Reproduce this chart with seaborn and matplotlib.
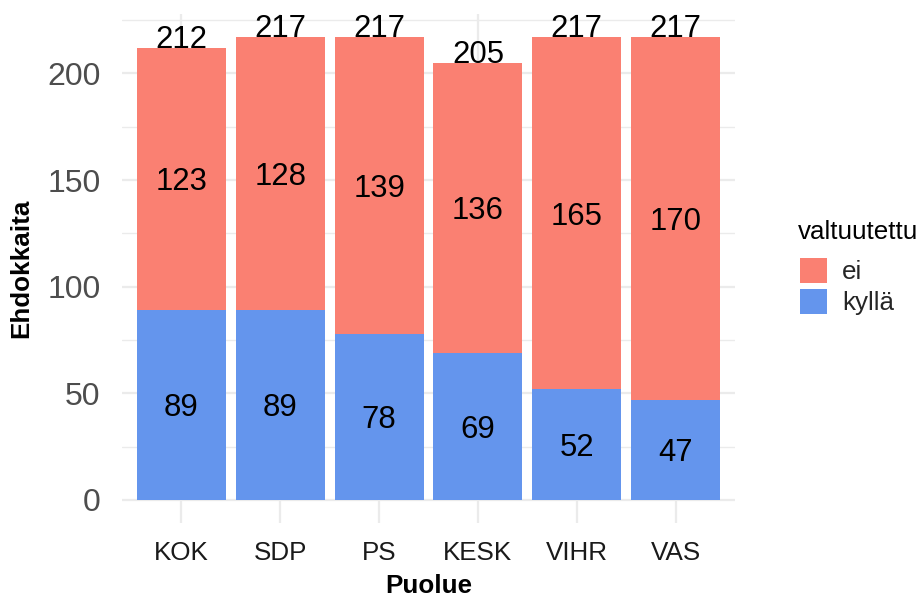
import matplotlib
matplotlib.use("Agg")
import matplotlib.pyplot as plt
import seaborn as sns
import pandas as pd
from matplotlib.patches import Patch

parties = ["KOK", "SDP", "PS", "KESK", "VIHR", "VAS"]
kylla = [89, 89, 78, 69, 52, 47]
ei = [123, 128, 139, 136, 165, 170]
legend_labels = ["ei", "kyllä"]
legend_title = "valtuutettu"

C_EI = "#FA8072"
C_KYLLA = "#6495ED"

sns.set_theme(style="whitegrid")
plt.rcParams["font.family"] = ["Liberation Sans", "DejaVu Sans"]

W, H = 921, 599
fig = plt.figure(figsize=(W / 100, H / 100), dpi=100)
L, R, T, B = 122, 735, 14, 523
ax = fig.add_axes([L / W, 1 - B / H, (R - L) / W, (B - T) / H])

df = pd.DataFrame({"Puolue": parties, "kylla": kylla, "ei": ei})
df["total"] = df["kylla"] + df["ei"]

sns.barplot(data=df, x="Puolue", y="total", order=parties, color=C_EI,
            saturation=1, width=0.9, errorbar=None, linewidth=0, ax=ax)
sns.barplot(data=df, x="Puolue", y="kylla", order=parties, color=C_KYLLA,
            saturation=1, width=0.9, errorbar=None, linewidth=0, ax=ax)

for i, (k, e) in enumerate(zip(kylla, ei)):
    ax.text(i, k / 2, str(k), ha="center", va="center_baseline", fontsize=22.4, color="black")
    ax.text(i, k + e / 2, str(e), ha="center", va="center_baseline", fontsize=22.4, color="black")
    ax.text(i, k + e, str(k + e), ha="center", va="baseline", fontsize=22.4, color="black")

ax.set_xlim(-0.6, 5.6)
ax.set_ylim(-10.85, 227.85)
ax.set_yticks([0, 50, 100, 150, 200])
ax.set_yticks([25, 75, 125, 175, 225], minor=True)
ax.grid(True, which="major", color="#EBEBEB", linewidth=1.6)
ax.grid(True, which="minor", axis="y", color="#EBEBEB", linewidth=1.0)
ax.set_axisbelow(True)
for s in ax.spines.values():
    s.set_visible(False)
ax.tick_params(axis="y", which="both", length=0, pad=15.5, labelsize=23, labelcolor="#4D4D4D")
ax.tick_params(axis="x", length=0, pad=13, labelsize=18.7, labelcolor="#1A1A1A")

ax.set_xlabel("Puolue", fontsize=18.7, fontweight="bold", color="black")
ax.set_ylabel("Ehdokkaita", fontsize=18.7, fontweight="bold", color="black")
ax.xaxis.set_label_coords(((L + R) / 2 - L) / (R - L), (B - 574) / (B - T))
ax.yaxis.set_label_coords((33 - L) / (R - L), 0.5)

handles = [Patch(facecolor=C_EI, edgecolor="none"), Patch(facecolor=C_KYLLA, edgecolor="none")]
ax.legend(handles, legend_labels, loc="upper left",
          bbox_to_anchor=(800 / W, 1 - 258 / H), bbox_transform=fig.transFigure,
          frameon=False, fontsize=18.7,
          handlelength=1.05, handleheight=1.08, handletextpad=0.58,
          labelspacing=0.2, borderpad=0, borderaxespad=0)
fig.text(798 / W, 1 - 239 / H, legend_title, ha="left", va="baseline",
         fontsize=18.7, color="black")

fig.savefig("out.png", dpi=100, facecolor="white")
